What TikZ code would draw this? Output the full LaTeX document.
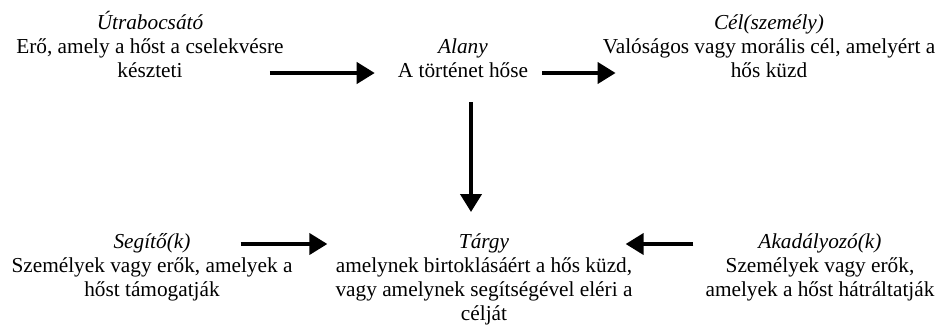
\documentclass[tikz,border=0pt]{standalone}
\usepackage{fontspec}
\setmainfont{Liberation Serif}
\usetikzlibrary{arrows.meta}

\tikzset{
    actant/.style={align=center,inner sep=0pt,anchor=base,
        font=\fontsize{21.3}{24}\selectfont},
    bigarrow/.style={line width=4pt,-{Triangle[length=18pt,width=21pt]}}
}

\begin{document}
\begin{tikzpicture}[x=1pt,y=-1pt]
    \useasboundingbox (0,0) rectangle (940,325);
    % felso sor
    \node[actant] (utrabocsato) at (150,77) {\textit{Útrabocsátó}\\Erő, amely a hőst a cselekvésre\\készteti};
    \node[actant] (alany) at (463,77) {\textit{Alany}\\A történet hőse};
    \node[actant] (cel) at (769,77) {\textit{Cél(személy)}\\Valóságos vagy morális cél, amelyért a\\hős küzd};
    % also sor
    \node[actant] (segito) at (152,296) {\textit{Segítő(k)}\\Személyek vagy erők, amelyek a\\hőst támogatják};
    \node[actant] (targy) at (484,320) {\textit{Tárgy}\\amelynek birtoklásáért a hős küzd,\\vagy amelynek segítségével eléri a\\célját};
    \node[actant] (akadalyozo) at (820,296) {\textit{Akadályozó(k)}\\Személyek vagy erők,\\amelyek a hőst hátráltatják};
    \coordinate (toprow) at (0,73);
    \coordinate (bottomrow) at (0,244);
    % nyilak
    \draw[bigarrow] ([xshift=-14pt]utrabocsato.east |- toprow) -- ([xshift=-23pt]alany.west |- toprow);
    \draw[bigarrow] ([xshift=14pt]alany.east |- toprow) -- ([xshift=13pt]cel.west |- toprow);
    \draw[bigarrow] ([xshift=8pt,yshift=-25pt]alany.base) -- ([xshift=8pt,yshift=21pt]alany.base |- targy.north);
    \draw[bigarrow] ([xshift=-52pt]segito.east |- bottomrow) -- ([xshift=-8pt]targy.west |- bottomrow);
    \draw[bigarrow] ([xshift=-12pt]akadalyozo.west |- bottomrow) -- ([xshift=-7pt]targy.east |- bottomrow);
\end{tikzpicture}
\end{document}
